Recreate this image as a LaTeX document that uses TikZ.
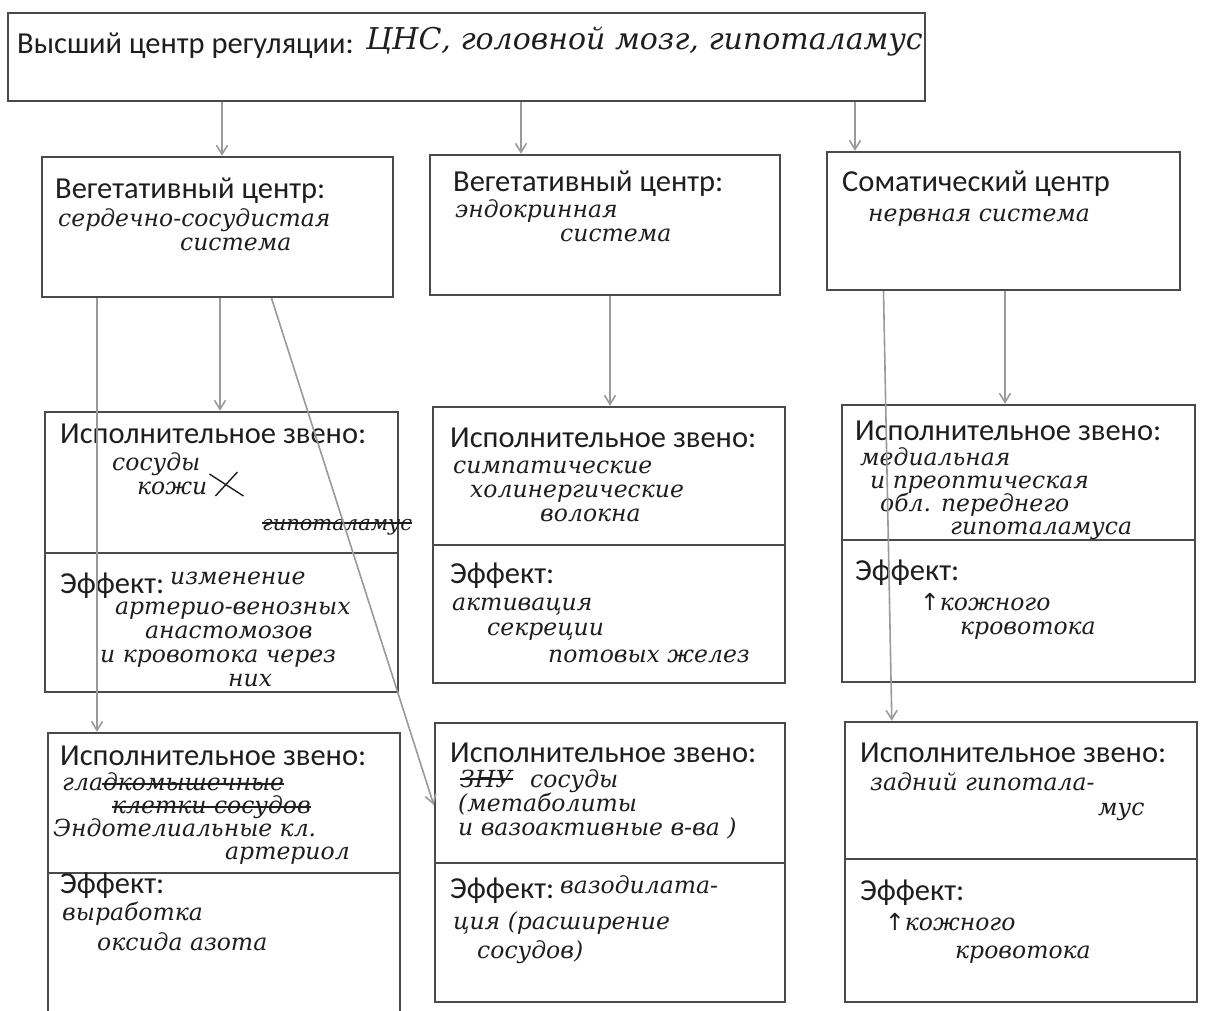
\documentclass[tikz,border=0pt]{standalone}
\usepackage{fontspec}
\newfontfamily\prf{Carlito}
\newfontfamily\hwf{DejaVu Serif}
\newfontfamily\symf{DejaVu Sans}
\usetikzlibrary{arrows.meta,calc}
\definecolor{ink}{HTML}{1E1E1E}
\definecolor{frame}{HTML}{4A4A4A}
\definecolor{arrowgray}{HTML}{9A9A9A}
\begin{document}
\begin{tikzpicture}[x=1pt,y=-1pt,
 box/.style={draw=frame, line width=2.4pt, rectangle, inner sep=0pt},
 pr/.style={font=\prf\fontsize{30.5}{30.5}\selectfont, anchor=base west, inner sep=0pt, text=ink, text height=0.62em, text depth=0.1em},
 hw/.style={font=\hwf\itshape\fontsize{23.5}{23.5}\selectfont, anchor=base west, inner sep=0pt, text=ink, text height=0.5em, text depth=0.05em},
 strike/.style={draw=ink, line width=1.4pt},
 arr/.style={draw=arrowgray, line width=1.6pt, -{Straight Barb[length=9pt,width=11pt]}}]
\useasboundingbox (0,0) rectangle (1225,1011);
\fill[white] (0,0) rectangle (1225,1011);

% ---------- boxes ----------
\node[box, minimum width=917pt, minimum height=88pt] (top) at (466.5,57) {};
\node[box, minimum width=351pt, minimum height=140pt] (A) at (217.5,227) {};
\node[box, minimum width=350pt, minimum height=140pt] (B) at (605,225) {};
\node[box, minimum width=353pt, minimum height=138pt] (C) at (1003.5,221) {};
\node[box, minimum width=353pt, minimum height=141pt] (L3e) at (221.5,482.5) {};
\node[box, minimum width=353pt, minimum height=139pt] (L3f) at (221.5,622.5) {};
\node[box, minimum width=352pt, minimum height=138pt] (M3e) at (609,476) {};
\node[box, minimum width=352pt, minimum height=138pt] (M3f) at (609,614) {};
\node[box, minimum width=353pt, minimum height=135pt] (R3e) at (1018.5,472.5) {};
\node[box, minimum width=353pt, minimum height=142pt] (R3f) at (1018.5,611) {};
\node[box, minimum width=352pt, minimum height=140pt] (L4e) at (224,803) {};
\node[box, minimum width=352pt, minimum height=143pt] (L4f) at (224,944.5) {};
\node[box, minimum width=350pt, minimum height=140pt] (M4e) at (610,793) {};
\node[box, minimum width=350pt, minimum height=139pt] (M4f) at (610,932.5) {};
\node[box, minimum width=352pt, minimum height=137pt] (R4e) at (1021,790.5) {};
\node[box, minimum width=352pt, minimum height=143pt] (R4f) at (1021,930.5) {};

% ---------- top ----------
\node[pr] (t1) at (17,54) {Высший центр регуляции:};
\node[hw, font=\hwf\itshape\fontsize{30}{30}\selectfont] (t2) at (366,50) {ЦНС, головной мозг, гипоталамус};

% ---------- row 2 ----------
\node[pr] (a1) at (55,198) {Вегетативный центр:};
\node[hw] (a2) at (58,226) {сердечно-сосудистая};
\node[hw] (a3) at (180,250) {система};

\node[pr] (b1) at (453,192) {Вегетативный центр:};
\node[hw] (b2) at (455,217) {эндокринная};
\node[hw] (b3) at (560,241) {система};

\node[pr] (c1) at (842,192) {Соматический центр};
\node[hw] (c2) at (868,221) {нервная система};

% ---------- row 3 left ----------
\node[pr] (l1) at (60,443) {Исполнительное звено:};
\node[hw] (l2) at (112,470) {сосуды};
\node[hw] (l3) at (137,494) {кожи};
\draw[strike] ($(l3.base east)+(2,-20)$) -- ($(l3.base east)+(36,2)$);
\draw[strike] ($(l3.base east)+(8,2)$) -- ($(l3.base east)+(30,-22)$);
\node[hw, font=\hwf\itshape\fontsize{21}{21}\selectfont] (l4) at (262,530) {гипоталамус};
\draw[strike] ($(l4.base west)+(0,-7)$) -- ($(l4.base east)+(0,-7)$);
\node[pr] (l5) at (60,593) {Эффект:};
\node[hw] (l6) at (170,584) {изменение};
\node[hw] (l7) at (115,614) {артерио-венозных};
\node[hw] (l8) at (145,638) {анастомозов};
\node[hw] (l9) at (100,662) {и кровотока через};
\node[hw] (l10) at (228,686) {них};

% ---------- row 3 middle ----------
\node[pr] (m1) at (450,447) {Исполнительное звено:};
\node[hw] (m2) at (453,473) {симпатические};
\node[hw] (m3) at (470,497) {холинергические};
\node[hw] (m4) at (540,521) {волокна};
\node[pr] (m5) at (450,583) {Эффект:};
\node[hw] (m6) at (452,610) {активация};
\node[hw] (m7) at (487,635) {секреции};
\node[hw] (m8) at (548,662) {потовых желез};

% ---------- row 3 right ----------
\node[pr] (r1) at (855,440) {Исполнительное звено:};
\node[hw] (r2) at (860,465) {медиальная};
\node[hw] (r3) at (870,488) {и преоптическая};
\node[hw] (r4) at (880,511) {обл. переднего};
\node[hw] (r5) at (950,534) {гипоталамуса};
\node[pr] (r6) at (855,580) {Эффект:};
\node[hw] (r7) at (920,610) {{\symf\upshape ↑}кожного};
\node[hw] (r8) at (960,634) {кровотока};

% ---------- row 4 left ----------
\node[pr] (p1) at (60,765) {Исполнительное звено:};
\node[hw] (p2) at (62,790) {гладкомышечные};
\draw[strike] ($(p2.base west)+(40,-6)$) -- ($(p2.base east)+(0,-6)$);
\node[hw] (p3) at (112,813) {клетки сосудов};
\draw[strike] ($(p3.base west)+(0,-6)$) -- ($(p3.base east)+(0,-6)$);
\node[hw] (p4) at (53,836) {Эндотелиальные кл.};
\node[hw] (p5) at (225,859) {артериол};
\node[pr] (p6) at (60,893) {Эффект:};
\node[hw] (p7) at (62,920) {выработка};
\node[hw] (p8) at (97,950) {оксида азота};

% ---------- row 4 middle ----------
\node[pr] (q1) at (450,762) {Исполнительное звено:};
\node[hw] (q2) at (460,787) {ЗНУ};
\draw[strike] ($(q2.base west)+(0,-8)$) -- ($(q2.base east)+(0,-8)$);
\node[hw] (q3) at (530,787) {сосуды};
\node[hw] (q4) at (458,811) {(метаболиты};
\node[hw] (q5) at (458,835) {и вазоактивные в-ва )};
\node[pr] (q6) at (450,898) {Эффект:};
\node[hw] (q7) at (560,893) {вазодилата-};
\node[hw] (q8) at (453,929) {ция (расширение};
\node[hw] (q9) at (477,958) {сосудов)};

% ---------- row 4 right ----------
\node[pr] (s1) at (860,762) {Исполнительное звено:};
\node[hw] (s2) at (870,790) {задний гипотала-};
\node[hw] (s3) at (1098,815) {мус};
\node[pr] (s4) at (860,900) {Эффект:};
\node[hw] (s5) at (885,930) {{\symf\upshape ↑}кожного};
\node[hw] (s6) at (955,958) {кровотока};

% ---------- connectors ----------
\coordinate (x1) at (222,0);
\coordinate (x2) at (521,0);
\coordinate (x3) at (855,0);
\coordinate (x4) at (220,0);
\coordinate (x5) at (97,0);
\coordinate (x6) at (610,0);
\coordinate (x7) at (1005,0);
\draw[arr] (top.south -| x1) -- (A.north -| x1);
\draw[arr] (top.south -| x2) -- (B.north -| x2);
\draw[arr] (top.south -| x3) -- (C.north -| x3);
\draw[arr] (A.south -| x4) -- (L3e.north -| x4);
\draw[arr] (A.south -| x5) -- (L4e.north -| x5);
\draw[arr] ($(A.south)+(54,0)$) -- ([yshift=-12pt]M4e.west);
\draw[arr] (B.south -| x6) -- (M3e.north -| x6);
\draw[arr] (C.south -| x7) -- (R3e.north -| x7);
\draw[arr] ($(C.south)+(-120,0)$) -- ($(R4e.north west)+(48,0)$);
\end{tikzpicture}
\end{document}
